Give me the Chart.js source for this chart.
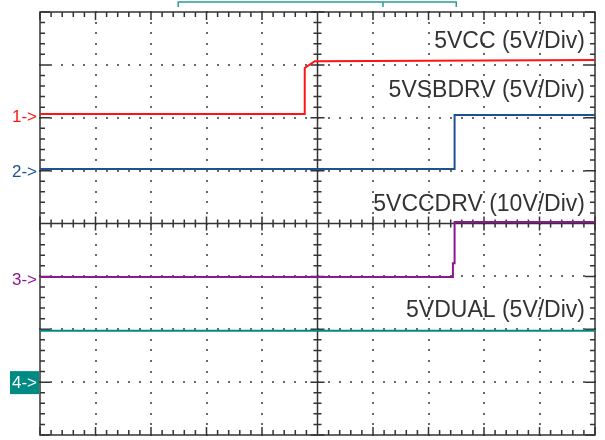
<!DOCTYPE html>
<html>
<head>
<meta charset="utf-8">
<script src="https://cdn.jsdelivr.net/npm/chart.js@4/dist/chart.umd.min.js"></script>
<style>
  html, body { margin: 0; padding: 0; background: #fff; }
  #wrap { width: 605px; height: 440px; position: relative; }
</style>
</head>
<body>
<div id="wrap"><canvas id="scope"></canvas></div>
<script>
// Trazas del osciloscopio, en divisiones (x: -5..5, y: -4..4)
const channelNames = ['5VCC (5V/Div)', '5VSBDRV (5V/Div)', '5VCCDRV (10V/Div)', '5VDUAL (5V/Div)'];
const channelColors = ['#ff1414', '#1d5191', '#8e1690', '#008a84'];
const markerLevels = [2.07, 1.03, -1.01, -3.0];

const trace5VCC = [
  {x: -5, y: 2.07}, {x: -0.24, y: 2.07}, {x: -0.23, y: 2.94},
  {x: -0.05, y: 3.07}, {x: 5, y: 3.09}
];
const trace5VSBDRV = [
  {x: -5, y: 1.03}, {x: 2.46, y: 1.03}, {x: 2.47, y: 2.05}, {x: 5, y: 2.05}
];
const trace5VCCDRV = [
  {x: -5, y: -1.01}, {x: 2.44, y: -1.01}, {x: 2.44, y: -0.75},
  {x: 2.47, y: -0.75}, {x: 2.47, y: 0.03}, {x: 5, y: 0.03}
];
const trace5VDUAL = [
  {x: -5, y: -2.03}, {x: 5, y: -2.03}
];
const traces = [trace5VCC, trace5VSBDRV, trace5VCCDRV, trace5VDUAL];

// Retícula del osciloscopio (rejilla punteada, ejes centrales y marcas)
const gridPlugin = {
  id: 'scopeGrid',
  beforeDatasetsDraw(chart) {
    const { ctx, chartArea: a, scales: { x, y } } = chart;
    ctx.save();
    // puntos de la rejilla
    ctx.fillStyle = '#6a6a6a';
    for (let i = -4; i <= 4; i++) {
      if (i === 0) continue;
      const px = Math.round(x.getPixelForValue(i));
      for (let j = -20; j <= 20; j++) {
        const py = Math.round(y.getPixelForValue(j / 5));
        ctx.fillRect(px - 1, py - 1, 2, 2);
      }
    }
    for (let j = -3; j <= 3; j++) {
      if (j === 0) continue;
      const py = Math.round(y.getPixelForValue(j));
      for (let i = -25; i <= 25; i++) {
        const px = Math.round(x.getPixelForValue(i / 5));
        ctx.fillRect(px - 1, py - 1, 2, 2);
      }
    }
    ctx.strokeStyle = '#333';
    ctx.lineWidth = 1.5;
    ctx.strokeRect(a.left, a.top, a.right - a.left, a.bottom - a.top);
    const cx = x.getPixelForValue(0), cy = y.getPixelForValue(0);
    ctx.beginPath();
    ctx.moveTo(a.left, cy); ctx.lineTo(a.right, cy);
    ctx.moveTo(cx, a.top); ctx.lineTo(cx, a.bottom);
    // marcas horizontales
    for (let i = -25; i <= 25; i++) {
      const px = x.getPixelForValue(i / 5);
      const major = i % 5 === 0;
      const len = major ? 8 : 5;
      ctx.moveTo(px, a.top); ctx.lineTo(px, a.top + len);
      ctx.moveTo(px, a.bottom); ctx.lineTo(px, a.bottom - len);
      const c = major ? 7 : 4;
      ctx.moveTo(px, cy - c); ctx.lineTo(px, cy + c);
    }
    // marcas verticales
    for (let j = -20; j <= 20; j++) {
      const py = y.getPixelForValue(j / 5);
      const major = j % 5 === 0;
      const len = major ? 10 : 5;
      ctx.moveTo(a.left, py); ctx.lineTo(a.left + len, py);
      ctx.moveTo(a.right, py); ctx.lineTo(a.right - len, py);
      const c = major ? 7 : 4;
      ctx.moveTo(cx - c, py); ctx.lineTo(cx + c, py);
    }
    ctx.stroke();
    ctx.restore();
  },
  afterDraw(chart) {
    const { ctx, chartArea: a, scales: { x, y } } = chart;
    ctx.save();
    // textos de canal
    ctx.font = '23px "Liberation Sans", Arial, sans-serif';
    ctx.fillStyle = '#333';
    ctx.textAlign = 'right';
    ctx.textBaseline = 'alphabetic';
    const textLevels = [3.31, 2.39, 0.24, -1.76];
    channelNames.forEach((name, i) => {
      ctx.fillText(name, a.right - 10, y.getPixelForValue(textLevels[i]));
    });
    // marcadores de tierra a la izquierda
    ctx.textAlign = 'left';
    ctx.textBaseline = 'middle';
    markerLevels.forEach((lvl, i) => {
      const py = y.getPixelForValue(lvl);
      if (i === 3) {
        ctx.fillStyle = channelColors[i];
        ctx.fillRect(10, py - 11, 29, 23);
        ctx.fillStyle = '#fff';
        ctx.font = '17px "Liberation Sans", Arial, sans-serif';
        ctx.fillText('4->', 12, py + 1);
      } else {
        ctx.fillStyle = channelColors[i];
        ctx.font = '17px "Liberation Sans", Arial, sans-serif';
        ctx.fillText((i + 1) + '->', 12, py + 3);
      }
    });
    // indicador de disparo superior
    const x1 = x.getPixelForValue(-2.51), x2 = x.getPixelForValue(2.5), xm = x.getPixelForValue(1.18);
    ctx.strokeStyle = '#2a9d96';
    ctx.lineWidth = 1.5;
    ctx.beginPath();
    ctx.moveTo(x1, 7); ctx.lineTo(x1, 2); ctx.lineTo(x2, 2); ctx.lineTo(x2, 7);
    ctx.moveTo(xm, 2); ctx.lineTo(xm, 7);
    ctx.stroke();
    ctx.restore();
  }
};

const ctxScope = document.getElementById('scope').getContext('2d');
const scopeChart = new Chart(ctxScope, {
  type: 'line',
  data: {
    datasets: traces.map((t, i) => ({
      label: channelNames[i],
      data: t,
      borderColor: channelColors[i],
      borderWidth: 2,
      pointRadius: 0,
      tension: 0,
      fill: false
    }))
  },
  options: {
    responsive: true,
    maintainAspectRatio: false,
    animation: false,
    layout: { padding: { left: 40, top: 12, right: 10, bottom: 5 } },
    plugins: { legend: { display: false }, tooltip: { enabled: false } },
    scales: {
      x: { type: 'linear', min: -5, max: 5, display: false },
      y: { type: 'linear', min: -4, max: 4, display: false }
    }
  },
  plugins: [gridPlugin]
});
</script>
</body>
</html>
